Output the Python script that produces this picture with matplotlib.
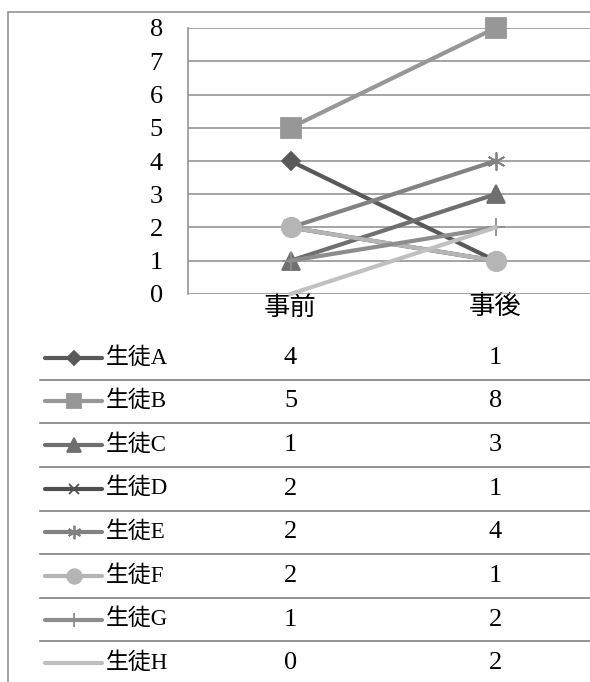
import matplotlib.pyplot as plt
import matplotlib.transforms as mtransforms
from matplotlib.patches import Rectangle

plt.rcParams['font.family'] = ['Liberation Serif', 'Noto Sans CJK JP']

categories = ['事前', '事後']
students = ['生徒A', '生徒B', '生徒C', '生徒D', '生徒E', '生徒F', '生徒G', '生徒H']
before = [4, 5, 1, 2, 2, 2, 1, 0]
after = [1, 8, 3, 1, 4, 1, 2, 2]

colors = ['#595959', '#979797', '#6f6f6f', '#4f4f4f', '#828282', '#b5b5b5', '#8d8d8d', '#c0c0c0']
markers = ['D', 's', '^', 'x', (6, 2, 0), 'o', '+', 'None']
msizes = [9, 14, 13, 10, 13, 14, 13, 0]

W, H = 590, 682
fig = plt.figure(figsize=(W / 100, H / 100), dpi=100)

# outer frame
fig.patches.append(Rectangle((8 / W, -0.05), 1.1, (H - 12) / H + 0.05,
                             transform=fig.transFigure, fill=False,
                             edgecolor='#8a8a8a', linewidth=1.1))

# chart area
ax = fig.add_axes([188 / W, (H - 294) / H, 410 / W, 266 / H])
ax.set_xlim(-0.5, 1.5)
ax.set_ylim(0, 8)
ax.set_yticks(range(9))
ax.set_xticks([0, 1])
ax.set_xticklabels(categories, fontsize=19)
ax.tick_params(axis='y', length=0, pad=18, labelsize=19)
ax.tick_params(axis='x', length=0, pad=1)
ax.grid(axis='y', color='#8c8c8c', linewidth=1.1)
ax.set_axisbelow(True)
for s in ['top', 'right', 'bottom']:
    ax.spines[s].set_visible(False)
ax.spines['left'].set_color('#8c8c8c')
ax.spines['left'].set_linewidth(1.1)

xs = [0, 1]
for i in range(len(students)):
    ax.plot(xs, [before[i], after[i]], color=colors[i], linewidth=3,
            marker=markers[i], markersize=msizes[i], markeredgewidth=1.3,
            markeredgecolor=colors[i], markerfacecolor=colors[i], clip_on=False, zorder=3 + i)

# data table
tax = fig.add_axes([0, (H - 685) / H, 1, 349 / H])
tax.set_xlim(0, W)
tax.set_ylim(len(students), 0)
tax.axis('off')
blend = mtransforms.blended_transform_factory(ax.transData, tax.transData)

for i, name in enumerate(students):
    yc = i + 0.5
    tax.plot([45, 102], [yc, yc], color=colors[i], linewidth=3,
             solid_capstyle='round')
    tax.plot([73.5], [yc], color=colors[i], marker=markers[i], markersize=msizes[i] * 0.75,
             markeredgewidth=1.3, markeredgecolor=colors[i], markerfacecolor=colors[i])
    tax.text(106, yc, name, fontsize=16.5, va='center', ha='left')
    tax.text(0, yc, str(before[i]), fontsize=19, va='center', ha='center', transform=blend)
    tax.text(1, yc, str(after[i]), fontsize=19, va='center', ha='center', transform=blend)
    if i > 0:
        tax.plot([40, W], [i, i], color='#808080', linewidth=1.2)

fig.savefig('out.png', dpi=100)
